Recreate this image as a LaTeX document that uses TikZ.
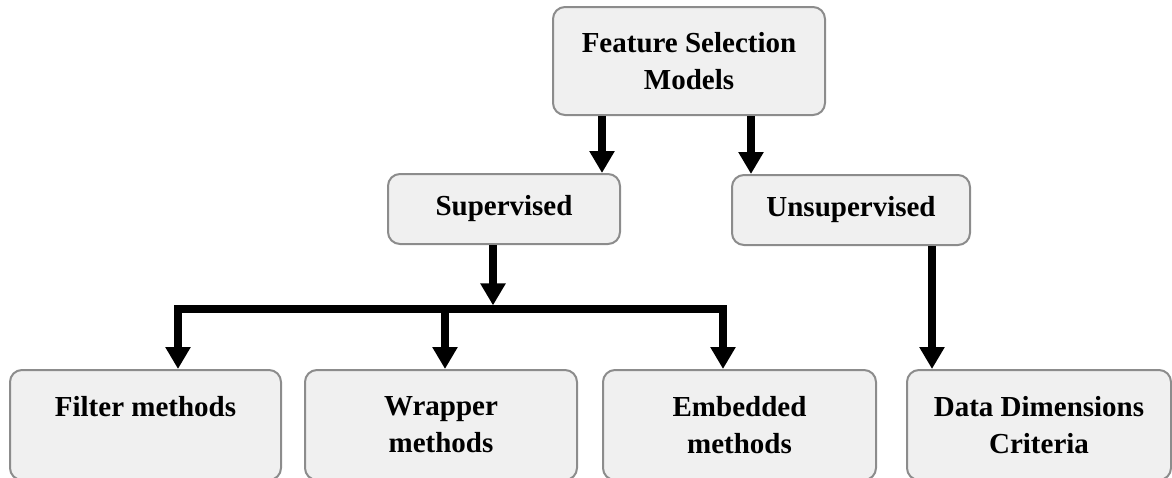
\documentclass[tikz,border=0pt]{standalone}
\usepackage{fontspec}
\setmainfont{Liberation Serif}
\usetikzlibrary{arrows.meta}
\definecolor{boxfill}{HTML}{F0F0F0}
\definecolor{boxline}{HTML}{8C8C8C}
\begin{document}
\begin{tikzpicture}[
    x=0.5pt, y=-0.5pt,
    model/.style={rectangle, rounded corners=6pt, draw=boxline, line width=1pt, fill=boxfill, align=center, inner sep=0pt, font=\fontsize{14.5}{18.5}\selectfont\bfseries},
    link/.style={-{Triangle[width=12pt,length=11pt]}, line width=3.6pt},
  ]
    \useasboundingbox (0,0) rectangle (1172,477);
    \clip (0,0) rectangle (1172,477);

    % Root
    \node[model, minimum width=136pt, minimum height=54pt] (fsm) at (689,61) {Feature Selection\\Models};

    % Learning types
    \node[model, minimum width=116pt, minimum height=35pt] (sup) at (504,209) {Supervised};
    \node[model, minimum width=119pt, minimum height=35pt] (unsup) at (851,210) {Unsupervised};

    % Methods
    \node[model, minimum width=135.5pt, minimum height=55pt] (filt) at (145.5,425) {Filter methods\\\mbox{}};
    \node[model, minimum width=136pt, minimum height=55pt] (wrap) at (441,425) {Wrapper\\methods};
    \node[model, minimum width=136.5pt, minimum height=55pt] (emb) at (739.5,425) {Embedded\\methods};
    \node[model, minimum width=132pt, minimum height=55pt] (data) at (1039,425) {Data Dimensions\\Criteria};

    % Root to learning types
    \draw[link] ([xshift=-43.5pt]fsm.south) -- ([xshift=-43.5pt]fsm.south |- sup.north);
    \draw[link] ([xshift=31pt]fsm.south) -- ([xshift=31pt]fsm.south |- unsup.north);

    % Supervised branch
    \coordinate (busL) at (178,309);
    \coordinate (busR) at (723,309);
    \draw[link, shorten >=1.8pt] ([xshift=-5.5pt]sup.south) -- ([xshift=-5.5pt]sup.south |- busL);
    \draw[link] (busL) -- (busR) -- (busR |- emb.north);
    \draw[link] (busR) -- (busL) -- (busL |- filt.north);
    \draw[link] ([xshift=2pt]wrap.north |- busL) -- ([xshift=2pt]wrap.north);

    % Unsupervised branch
    \draw[link] ([xshift=40.5pt]unsup.south) -- ([xshift=40.5pt]unsup.south |- data.north);
  \end{tikzpicture}
\end{document}
